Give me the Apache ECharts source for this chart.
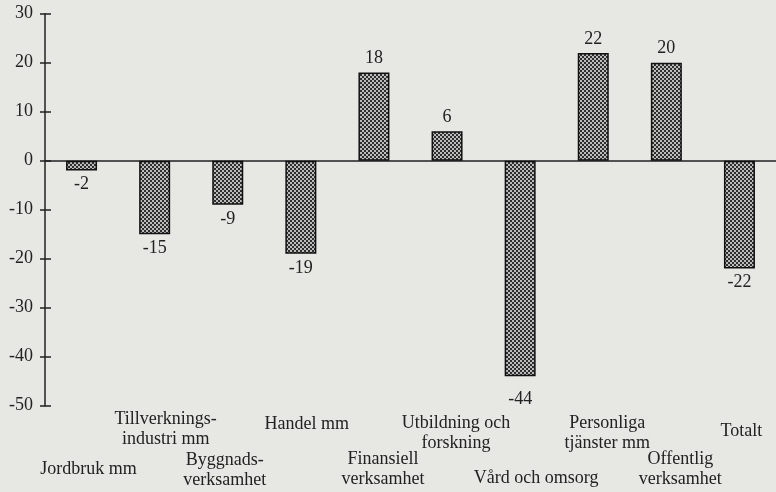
<!DOCTYPE html>
<html>
<head>
<meta charset="utf-8">
<script src="https://cdn.jsdelivr.net/npm/echarts@6/dist/echarts.min.js"></script>
<style>
  html, body { margin: 0; padding: 0; background: #e7e7e4; }
  #chart { width: 776px; height: 492px; }
</style>
</head>
<body>
<div id="chart"></div>
<script>
const categories = [
  'Jordbruk mm',
  'Tillverknings-\nindustri mm',
  'Byggnads-\nverksamhet',
  'Handel mm',
  'Finansiell\nverksamhet',
  'Utbildning och\nforskning',
  'Vård och omsorg',
  'Personliga\ntjänster mm',
  'Offentlig\nverksamhet',
  'Totalt'
];
const values = [-2, -15, -9, -19, 18, 6, -44, 22, 20, -22];
const yTicks = [-50, -40, -30, -20, -10, 0, 10, 20, 30];

// label layout: [down, right] shift of each category label (px)
const labelShift = [[51, 7], [1, 11], [42, -3], [6, 6], [41, 9], [5, 9], [60, 16], [5, 14], [41, 14], [13, 2]];

const ink = '#222222';
const font = '"Liberation Serif", "DejaVu Serif", serif';

// crosshatch fill for the bars
const tile = document.createElement('canvas');
tile.width = 4;
tile.height = 4;
const ctx = tile.getContext('2d');
ctx.fillStyle = '#2e2e2e';
ctx.fillRect(0, 0, 4, 4);
ctx.fillStyle = '#bcbcbc';
ctx.fillRect(0, 0, 2, 2);
ctx.fillRect(2, 2, 2, 2);

const chart = echarts.init(document.getElementById('chart'), null, { renderer: 'canvas' });

const yBase = {
  type: 'value',
  min: yTicks[0],
  max: yTicks[yTicks.length - 1],
  interval: 10,
  splitLine: { show: false }
};

chart.setOption({
  backgroundColor: '#e7e7e4',
  animation: false,
  grid: { left: 45, top: 13.7, bottom: 86.3, width: 740 },
  xAxis: {
    type: 'category',
    data: categories.map((name, i) => {
      const [dy, dx] = labelShift[i];
      return {
        value: name,
        textStyle: { padding: [dy, dx < 0 ? -2 * dx : 0, 0, dx > 0 ? 2 * dx : 0] }
      };
    }),
    axisLine: { onZero: true, lineStyle: { color: ink, width: 1.5 } },
    axisTick: { show: false },
    axisLabel: {
      interval: 0,
      margin: 3,
      color: ink,
      fontFamily: font,
      fontSize: 18,
      lineHeight: 20,
      align: 'center',
      verticalAlign: 'top'
    }
  },
  yAxis: [
    Object.assign({}, yBase, {
      axisLine: { show: true, lineStyle: { color: ink, width: 1.5 } },
      axisTick: { show: true, length: 5, lineStyle: { color: ink, width: 1.5 } },
      axisLabel: { margin: 12, color: ink, fontFamily: font, fontSize: 18 }
    }),
    Object.assign({}, yBase, {
      position: 'left',
      offset: 0,
      axisLine: { show: false },
      axisTick: { show: true, inside: true, length: 6, lineStyle: { color: ink, width: 1.5 } },
      axisLabel: { show: false }
    })
  ],
  series: [{
    type: 'bar',
    yAxisIndex: 0,
    barWidth: 31,
    data: values.map((v, i) => ({
      value: v,
      label: { position: v < 0 ? 'bottom' : 'top', distance: i === 6 ? 14 : 5 }
    })),
    itemStyle: {
      color: { image: tile, repeat: 'repeat' },
      borderColor: '#111',
      borderWidth: 1.5
    },
    label: {
      show: true,
      color: ink,
      fontFamily: font,
      fontSize: 18
    }
  }]
});
</script>
</body>
</html>
